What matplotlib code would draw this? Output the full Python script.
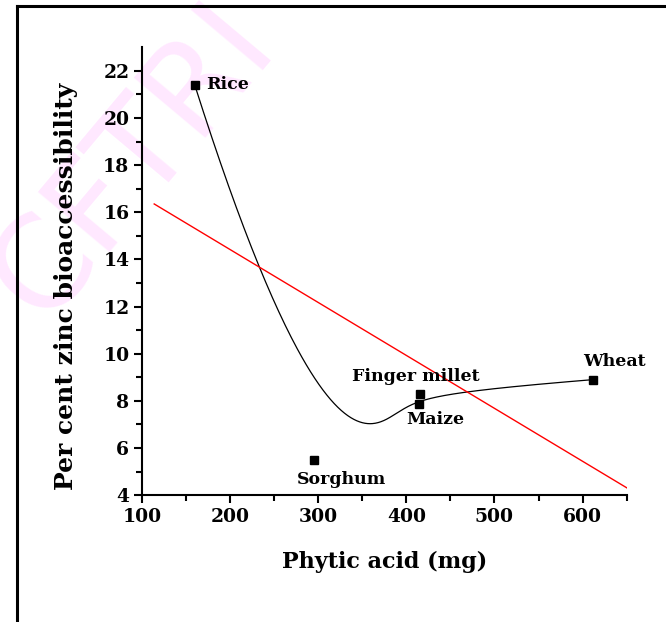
import numpy as np
import matplotlib
matplotlib.use("Agg")
import matplotlib.pyplot as plt
from matplotlib.lines import Line2D

# cereal phytic acid content vs zinc bioaccessibility
cereals = ["Rice", "Sorghum", "Maize", "Finger millet", "Wheat"]
phytic_acid = [160, 295, 414, 416, 612]          # mg
zinc_bioacc = [21.4, 5.5, 7.85, 8.3, 8.9]         # per cent
fit_span = [114, 650]                              # x range of the linear fit

xticks = [100, 200, 300, 400, 500, 600]
yticks = [4, 6, 8, 10, 12, 14, 16, 18, 20, 22]

# label offsets in points: (dx, dy, ha, va)
label_pos = {
    "Rice": (8, 0, "left", "center"),
    "Sorghum": (20, -8, "center", "top"),
    "Maize": (12, -5, "center", "top"),
    "Finger millet": (-3, 6, "center", "bottom"),
    "Wheat": (15, 7, "center", "bottom"),
}


def bspline(px, py, k=3, n=400):
    """Clamped uniform B-spline over the control polygon (px, py)."""
    ctrl = np.column_stack([px, py]).astype(float)
    m = len(ctrl)
    knots = np.concatenate([np.zeros(k), np.linspace(0, 1, m - k + 1), np.ones(k)])
    t = np.linspace(0, 1, n)
    N = np.zeros((n, len(knots) - 1))
    for i in range(len(knots) - 1):
        N[:, i] = (t >= knots[i]) & (t < knots[i + 1])
    N[-1, m - 1] = 1.0
    for p in range(1, k + 1):
        newN = np.zeros((n, len(knots) - 1 - p))
        for i in range(len(knots) - 1 - p):
            d1 = knots[i + p] - knots[i]
            d2 = knots[i + p + 1] - knots[i + 1]
            a = (t - knots[i]) / d1 if d1 > 0 else 0.0
            b = (knots[i + p + 1] - t) / d2 if d2 > 0 else 0.0
            newN[:, i] = a * N[:, i] + b * N[:, i + 1]
        N = newN
    pts = N @ ctrl
    return pts[:, 0], pts[:, 1]


plt.rcParams["font.family"] = "DejaVu Serif"
plt.rcParams["font.weight"] = "bold"

fig = plt.figure(figsize=(6.66, 6.22), dpi=100)

# faint watermark behind everything
fig.text(0.20, 0.74, "CFTRI", fontsize=92, color="#ffe8ff", rotation=50,
         ha="center", va="center", family="DejaVu Sans", weight="normal", zorder=-5)

# outer frame (left and top edges visible)
fig.add_artist(Line2D([0.0255, 0.0255], [0.0, 0.990], color="black", lw=2.2,
                      transform=fig.transFigure))
fig.add_artist(Line2D([0.0255, 1.0], [0.990, 0.990], color="black", lw=2.2,
                      transform=fig.transFigure))

ax = fig.add_axes([0.213, 0.204, 0.728, 0.720])
ax.set_facecolor("none")

# smoothed connection and linear fit
sx, sy = bspline(phytic_acid, zinc_bioacc)
ax.plot(sx, sy, color="black", lw=0.9)

slope, intercept = np.polyfit(phytic_acid, zinc_bioacc, 1)
fx = np.array(fit_span, dtype=float)
ax.plot(fx, slope * fx + intercept, color="red", lw=1.0)

ax.plot(phytic_acid, zinc_bioacc, "s", color="black", ms=6, ls="none")

for name, x, y in zip(cereals, phytic_acid, zinc_bioacc):
    dx, dy, ha, va = label_pos[name]
    ax.annotate(name, (x, y), xytext=(dx, dy), textcoords="offset points",
                ha=ha, va=va, fontsize=12.5, fontweight="bold")

ax.set_xlim(100, 650)
ax.set_ylim(4, 23)
ax.set_xticks(xticks)
ax.set_yticks(yticks)
ax.set_xticks(np.arange(150, 651, 100), minor=True)
ax.set_yticks(np.arange(5, 23, 2), minor=True)

for side in ["top", "right"]:
    ax.spines[side].set_visible(False)
for side in ["left", "bottom"]:
    ax.spines[side].set_linewidth(1.5)

ax.tick_params(which="major", direction="out", length=6, width=1.5, labelsize=13.5, pad=3)
ax.tick_params(which="minor", direction="out", length=4, width=1.5)
for lab in ax.get_xticklabels() + ax.get_yticklabels():
    lab.set_fontweight("bold")

ax.set_xlabel("Phytic acid (mg)", fontsize=16, fontweight="bold", labelpad=18)
ax.set_ylabel("Per cent zinc bioaccessibility", fontsize=18, fontweight="bold")
ax.yaxis.set_label_coords(-0.132, 0.466)

fig.savefig("out.png", dpi=100)
